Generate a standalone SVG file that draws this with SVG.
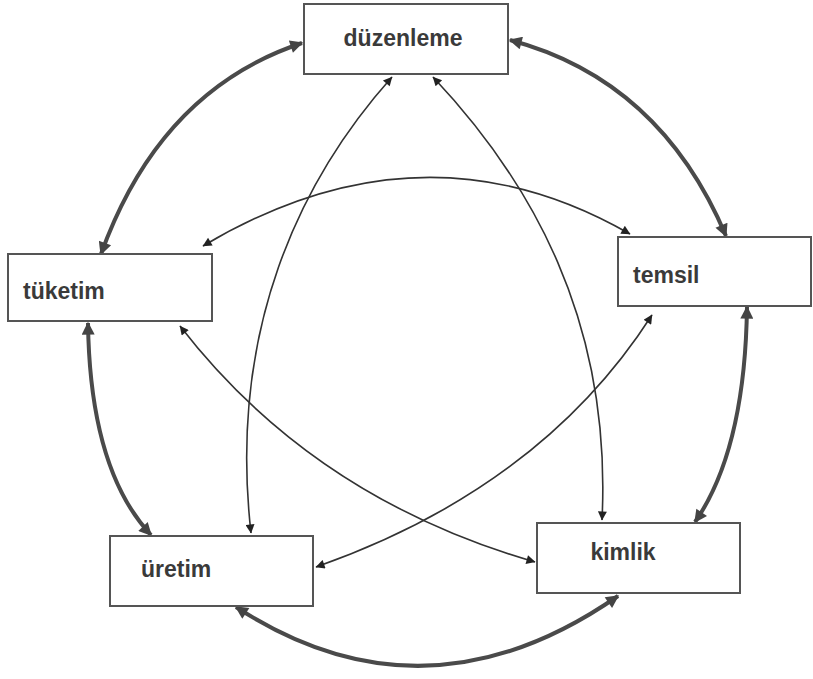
<svg xmlns="http://www.w3.org/2000/svg" width="813" height="679" viewBox="0 0 813 679">
  <style>
    .box { fill: #ffffff; stroke: #555555; stroke-width: 2; }
    .lbl { font-family: "Liberation Sans", Arial, sans-serif; font-size: 23px; font-weight: bold; fill: #3a3a3a; }
    .outer { fill: none; stroke: #4a4a4a; stroke-width: 4; marker-start: url(#big); marker-end: url(#big); }
    .inner { fill: none; stroke: #333333; stroke-width: 1.6; marker-start: url(#small); marker-end: url(#small); }
  </style>
  <defs>
    <marker id="big" viewBox="0 0 10 10" refX="9" refY="5" markerWidth="17" markerHeight="13" markerUnits="userSpaceOnUse" orient="auto-start-reverse">
      <path d="M0,0 L10,5 L0,10 z" fill="#444444"/>
    </marker>
    <marker id="small" viewBox="0 0 10 10" refX="9.5" refY="5" markerWidth="12" markerHeight="9" markerUnits="userSpaceOnUse" orient="auto-start-reverse">
      <path d="M0,0 L10,5 L0,10 z" fill="#222222"/>
    </marker>
  </defs>
  <rect width="813" height="679" fill="#ffffff"/>

  <g id="connectors">
    <!-- outer ring -->
    <path class="outer" d="M302,43 Q160,90 101,254"/>
    <path class="outer" d="M510,40 Q660,80 726,236"/>
    <path class="outer" d="M747,307 Q745,450 695,522"/>
    <path class="outer" d="M618,596 Q425,730 236,607"/>
    <path class="outer" d="M151,535 Q90,470 88,323"/>
    <!-- inner links -->
    <path class="inner" d="M392,77 C300,180 228,330 251,533"/>
    <path class="inner" d="M433,77 C530,180 612,320 602,520"/>
    <path class="inner" d="M203,246 Q423,115 630,234"/>
    <path class="inner" d="M180,326 Q313,498 535,562"/>
    <path class="inner" d="M652,315 Q541,488 316,567"/>
  </g>

  <g id="duzenleme">
    <rect class="box" x="304" y="4" width="204" height="70"/>
    <text class="lbl" x="403" y="46" text-anchor="middle">düzenleme</text>
  </g>
  <g id="tuketim">
    <rect class="box" x="8" y="254" width="204" height="67"/>
    <text class="lbl" x="23" y="299">tüketim</text>
  </g>
  <g id="temsil">
    <rect class="box" x="618" y="237" width="193" height="69"/>
    <text class="lbl" x="633" y="283">temsil</text>
  </g>
  <g id="uretim">
    <rect class="box" x="110" y="536" width="203" height="70"/>
    <text class="lbl" x="141" y="577">üretim</text>
  </g>
  <g id="kimlik">
    <rect class="box" x="537" y="523" width="203" height="70"/>
    <text class="lbl" x="623" y="560" text-anchor="middle">kimlik</text>
  </g>
</svg>
